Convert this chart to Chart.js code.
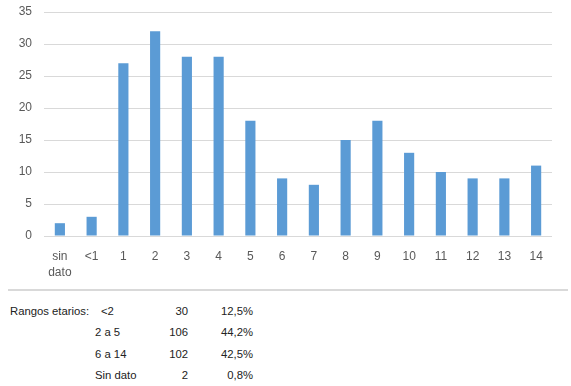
<!DOCTYPE html>
<html>
<head>
<meta charset="utf-8">
<script src="https://cdn.jsdelivr.net/npm/chart.js@4"></script>
<style>
  body { margin: 0; background: #fff; font-family: "Liberation Sans", Arial, sans-serif; }
  #wrap { position: relative; width: 571px; height: 280px; }
  #sep { position: absolute; left: 8px; top: 289px; width: 560px; height: 2px; background: #d9d9d9; }
  #tabla { position: absolute; left: 0; top: 300px; font-size: 11.3px; color: #222; }
  #tabla div { position: absolute; white-space: nowrap; }
</style>
</head>
<body>
<div id="wrap"><canvas id="myChart" width="571" height="280"></canvas></div>
<div id="sep"></div>
<div id="tabla"></div>
<script>
let etiquetas = [["sin", "dato"], "<1", "1", "2", "3", "4", "5", "6", "7", "8", "9", "10", "11", "12", "13", "14"];
let valori = [2, 3, 27, 32, 28, 28, 18, 9, 8, 15, 18, 13, 10, 9, 9, 11];

let rangos = ["<2", "2 a 5", "6 a 14", "Sin dato"];
let casos = [30, 106, 102, 2];
let porcentajes = ["12,5%", "44,2%", "42,5%", "0,8%"];

// tabla sotto il grafico
let tab = document.getElementById("tabla");
let html = '<div style="left:10px;top:5px">Rangos etarios:</div>';
for (let i = 0; i < rangos.length; i++) {
    let top = 5 + i * 21.3;
    let sx = i == 0 ? 101 : 95;
    html += '<div style="left:' + sx + 'px;top:' + top + 'px">' + rangos[i] + '</div>';
    html += '<div style="right:' + (-188) + 'px;top:' + top + 'px;width:60px;text-align:right">' + casos[i] + '</div>';
    html += '<div style="right:' + (-253) + 'px;top:' + top + 'px;width:60px;text-align:right">' + porcentajes[i] + '</div>';
}
tab.innerHTML = html;

const ctx = document.getElementById('myChart').getContext('2d');
const myChart = new Chart(ctx, {
    type: 'bar',
    data: {
        labels: etiquetas,
        datasets: [{
            data: valori,
            backgroundColor: '#5b9bd5',
            barPercentage: 0.32,
            categoryPercentage: 1
        }]
    },
    options: {
        responsive: false,
        animation: false,
        layout: { padding: { top: 0, right: 19, left: 0, bottom: 0 } },
        plugins: { legend: { display: false }, tooltip: { enabled: false } },
        scales: {
            x: {
                grid: { display: false, drawTicks: false },
                border: { display: false },
                ticks: { color: '#595959', font: { family: 'Liberation Sans', size: 12, lineHeight: 1.3 }, padding: 13, maxRotation: 0, autoSkip: false },
                afterFit: function(s) { s.height = 44; s.paddingTop = 0; }
            },
            y: {
                min: 0,
                max: 35,
                ticks: { stepSize: 5, color: '#595959', font: { family: 'Liberation Sans', size: 12 }, padding: 12 },
                grid: { color: '#d9d9d9', lineWidth: 1, drawTicks: false },
                border: { display: false },
                afterFit: function(s) { s.width = 44; s.paddingTop = 12; s.paddingBottom = 0; }
            }
        }
    }
});
</script>
</body>
</html>
